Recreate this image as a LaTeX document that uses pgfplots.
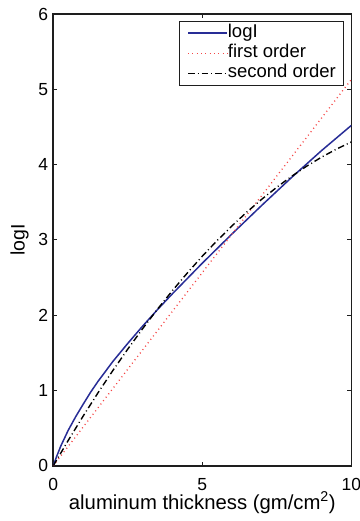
\documentclass[border=0pt]{standalone}
\usepackage{fontspec}
\setmainfont{Liberation Sans}
\usepackage{pgfplots}
\pgfplotsset{compat=1.18}
\definecolor{mblue}{RGB}{40,45,150}
\definecolor{mred}{RGB}{245,70,70}
\definecolor{axc}{RGB}{30,30,30}
\begin{document}
\begin{tikzpicture}
\begin{axis}[
  scale only axis,
  width=298pt, height=451.7pt,
  xmin=0, xmax=10, ymin=0, ymax=6,
  xtick={0,5,10}, ytick={0,1,2,3,4,5,6},
  tick align=inside,
  major tick length=4pt,
  axis line style={line width=1.6pt, axc},
  tick style={line width=1.2pt, axc},
  /pgf/number format/assume math mode=true,
  xticklabel style={font=\fontsize{17.5}{20}\selectfont, anchor=base, inner sep=0pt, yshift=-24.3pt},
  yticklabel style={font=\fontsize{17.5}{20}\selectfont, anchor=east, inner sep=0pt, xshift=-5pt},
  xlabel={aluminum thickness (gm/cm$^{\mathrm{2}}$)},
  ylabel={logI},
  every axis x label/.style={at={(axis description cs:0.5,0)}, anchor=base, yshift=-43.5pt, font=\fontsize{20.3}{24}\selectfont},
  every axis y label/.style={at={(axis description cs:0,0.5)}, xshift=-33.8pt, rotate=90, anchor=center, font=\fontsize{19.5}{23}\selectfont},
  legend style={at={(0.9765,0.985)}, anchor=north east, draw=axc, line width=0.9pt,
    font=\fontsize{18.5}{21}\selectfont, inner xsep=8pt, inner ysep=3pt, row sep=2pt,
    nodes={inner sep=0pt, text height=13.5pt, text depth=4.5pt}},
  legend cell align=left,
  legend image code/.code={\draw[#1] (0pt,0pt) -- (39pt,0pt);},
  /tikz/every even column/.append style={column sep=5pt},
]
\addplot[mblue, line width=1.5pt] coordinates {
(0,0) (0.1,0.11) (0.25,0.26) (0.5,0.47) (0.75,0.65) (1,0.815) (1.25,0.975) (1.5,1.12)
(2,1.385) (2.5,1.625) (3,1.855) (3.5,2.075) (4,2.285) (5,2.69) (6,3.08) (7,3.46)
(8,3.83) (9,4.185) (10,4.52)};
\addlegendentry{logI}
\addplot[mred, line width=1.3pt, dash pattern=on 1pt off 3.3pt] coordinates {
(0,0) (2,1.026) (4,2.052) (6,3.078) (8,4.104) (10,5.13)};
\addlegendentry{first order}
\addplot[black, line width=1.4pt, dash pattern=on 6.5pt off 3pt on 1pt off 3pt] coordinates {
(0,0) (0.5,0.335) (1,0.658) (1.5,0.968) (2,1.265) (2.5,1.549) (3,1.821) (3.5,2.081)
(4,2.327) (4.5,2.561) (5,2.783) (5.5,2.991) (6,3.187) (6.5,3.371) (7,3.541)
(7.5,3.699) (8,3.845) (8.5,3.978) (9,4.098) (9.5,4.205) (10,4.30)};
\addlegendentry{second order}
\end{axis}
\pgfresetboundingbox
\path (current axis.south west) ++(-53.3pt,-55.3pt) coordinate (bbA);
\path (current axis.north east) ++(8pt,14pt) coordinate (bbB);
\useasboundingbox (bbA) rectangle (bbB);
\end{tikzpicture}
\end{document}
